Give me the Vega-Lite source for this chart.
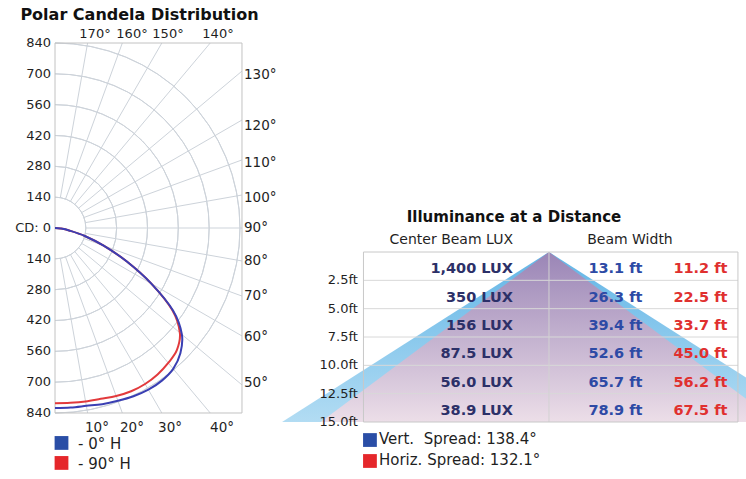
{
"$schema":"https://vega.github.io/schema/vega-lite/v6.json",
"width":746,"height":479,"autosize":{"type":"none"},"padding":0,"background":"white",
"config":{"view":{"stroke":null},"text":{"font":"DejaVu Sans","fontSize":13,"color":"#1f1f1f"},"axis":{"disable":true}},
"data":{"values":[{}]},
"datasets":{
"rings":[{"r":140},{"r":280},{"r":420},{"r":560},{"r":700},{"r":840}],
"spokes":[
{"x":24.31,"y":-137.87,"x2":148.1,"y2":-840},
{"x":47.88,"y":-131.56,"x2":305.7,"y2":-840},
{"x":70,"y":-121.24,"x2":485,"y2":-840},
{"x":89.99,"y":-107.25,"x2":704.8,"y2":-840},
{"x":107.25,"y":-89.99,"x2":849,"y2":-712.4},
{"x":121.24,"y":-70,"x2":849,"y2":-490.2},
{"x":131.56,"y":-47.88,"x2":849,"y2":-309},
{"x":137.87,"y":-24.31,"x2":849,"y2":-149.7},
{"x":140,"y":0,"x2":849,"y2":0},
{"x":137.87,"y":24.31,"x2":849,"y2":149.7},
{"x":131.56,"y":47.88,"x2":849,"y2":309},
{"x":121.24,"y":70,"x2":849,"y2":490.2},
{"x":107.25,"y":89.99,"x2":849,"y2":712.4},
{"x":89.99,"y":107.25,"x2":704.8,"y2":840},
{"x":70,"y":121.24,"x2":485,"y2":840},
{"x":47.88,"y":131.56,"x2":305.7,"y2":840},
{"x":24.31,"y":137.87,"x2":148.1,"y2":840}],
"curves":[
{"s":"0° H","a":0,"x":0,"y":-817},
{"s":"0° H","a":5,"x":71.3,"y":-814.9},
{"s":"0° H","a":10,"x":142.4,"y":-807.5},
{"s":"0° H","a":15,"x":214.3,"y":-799.8},
{"s":"0° H","a":20,"x":285.6,"y":-784.6},
{"s":"0° H","a":25,"x":356.3,"y":-764.0},
{"s":"0° H","a":30,"x":424.0,"y":-734.4},
{"s":"0° H","a":35,"x":485.2,"y":-693.0},
{"s":"0° H","a":40,"x":536.7,"y":-639.6},
{"s":"0° H","a":45,"x":569.2,"y":-569.2},
{"s":"0° H","a":50,"x":576.1,"y":-483.4},
{"s":"0° H","a":55,"x":536.5,"y":-375.7},
{"s":"0° H","a":60,"x":437.3,"y":-252.5},
{"s":"0° H","a":65,"x":326.3,"y":-152.1},
{"s":"0° H","a":70,"x":220.8,"y":-80.4},
{"s":"0° H","a":75,"x":135.2,"y":-36.2},
{"s":"0° H","a":80,"x":64.0,"y":-11.3},
{"s":"0° H","a":85,"x":24.9,"y":-2.2},
{"s":"0° H","a":90,"x":0,"y":0},
{"s":"90° H","a":0,"x":0,"y":-796},
{"s":"90° H","a":5,"x":69.5,"y":-794.0},
{"s":"90° H","a":10,"x":138.9,"y":-787.8},
{"s":"90° H","a":15,"x":207.8,"y":-775.6},
{"s":"90° H","a":20,"x":277.7,"y":-763.0},
{"s":"90° H","a":25,"x":345.7,"y":-741.4},
{"s":"90° H","a":30,"x":409.0,"y":-708.4},
{"s":"90° H","a":35,"x":465.7,"y":-665.2},
{"s":"90° H","a":40,"x":514.2,"y":-612.8},
{"s":"90° H","a":45,"x":553.7,"y":-553.7},
{"s":"90° H","a":50,"x":566.9,"y":-475.7},
{"s":"90° H","a":55,"x":532.4,"y":-372.8},
{"s":"90° H","a":60,"x":437.3,"y":-252.5},
{"s":"90° H","a":65,"x":326.3,"y":-152.1},
{"s":"90° H","a":70,"x":220.8,"y":-80.4},
{"s":"90° H","a":75,"x":135.2,"y":-36.2},
{"s":"90° H","a":80,"x":64.0,"y":-11.3},
{"s":"90° H","a":85,"x":24.9,"y":-2.2},
{"s":"90° H","a":90,"x":0,"y":0}],
"cd_labels":[{"y":840,"t":"840"},{"y":700,"t":"700"},{"y":560,"t":"560"},{"y":420,"t":"420"},{"y":280,"t":"280"},{"y":140,"t":"140"},{"y":0,"t":"CD: 0"},{"y":-140,"t":"140"},{"y":-280,"t":"280"},{"y":-420,"t":"420"},{"y":-560,"t":"560"},{"y":-700,"t":"700"},{"y":-840,"t":"840"}],
"deg_top":[{"x":181.6,"t":"170°"},{"x":349.6,"t":"160°"},{"x":513.1,"t":"150°"},{"x":740.1,"t":"140°"}],
"deg_bottom":[{"x":190.7,"t":"10°"},{"x":349.6,"t":"20°"},{"x":522.2,"t":"30°"},{"x":758.3,"t":"40°"}],
"deg_right":[{"y":694.7,"t":"130°"},{"y":463.1,"t":"120°"},{"y":297.4,"t":"110°"},{"y":137.9,"t":"100°"},{"y":0,"t":"90°"},{"y":-149.8,"t":"80°"},{"y":-308.8,"t":"70°"},{"y":-497,"t":"60°"},{"y":-705.9,"t":"50°"}],
"beam_vert":[{"dist":0,"x":0,"x2":0},{"dist":15,"x":-39.45,"x2":39.45}],
"beam_horiz":[{"dist":0,"x":0,"x2":0},{"dist":15,"x":-33.75,"x2":33.75}],
"rows":[
{"dist":2.5,"label":"2.5ft","lux":"1,400 LUX","vert":"13.1 ft","horiz":"11.2 ft"},
{"dist":5.0,"label":"5.0ft","lux":"350 LUX","vert":"26.3 ft","horiz":"22.5 ft"},
{"dist":7.5,"label":"7.5ft","lux":"156 LUX","vert":"39.4 ft","horiz":"33.7 ft"},
{"dist":10.0,"label":"10.0ft","lux":"87.5 LUX","vert":"52.6 ft","horiz":"45.0 ft"},
{"dist":12.5,"label":"12.5ft","lux":"56.0 LUX","vert":"65.7 ft","horiz":"56.2 ft"},
{"dist":15.0,"label":"15.0ft","lux":"38.9 LUX","vert":"78.9 ft","horiz":"67.5 ft"}]
},
"resolve":{"scale":{"x":"independent","y":"independent"}},
"layer":[
{
"layer":[
{"data":{"name":"rings"},"mark":{"type":"arc","theta":0,"theta2":3.14159,"filled":false,"stroke":"#cdd3da","strokeWidth":1},
"encoding":{"x":{"datum":0,"type":"quantitative","scale":{"domain":[-249.73,3137.5],"nice":false,"zero":false}},"y":{"datum":0,"type":"quantitative","scale":{"domain":[-1139.68,1035.25],"nice":false,"zero":false}},"radius":{"field":"r","type":"quantitative","scale":{"type":"linear","domain":[0,840],"range":[0,185],"zero":true,"nice":false}},"radius2":{"field":"r"}}},
{"data":{"name":"spokes"},"mark":{"type":"rule","color":"#cdd3da","strokeWidth":1},
"encoding":{"x":{"field":"x","type":"quantitative","scale":{"domain":[-249.73,3137.5],"nice":false,"zero":false}},"y":{"field":"y","type":"quantitative","scale":{"domain":[-1139.68,1035.25],"nice":false,"zero":false}},"x2":{"field":"x2"},"y2":{"field":"y2"}}},
{"mark":{"type":"rect","filled":false,"stroke":"#c2c2c2","strokeWidth":1},"encoding":{"x":{"datum":0,"type":"quantitative"},"x2":{"datum":849},"y":{"datum":-840,"type":"quantitative"},"y2":{"datum":840}}},
{"data":{"name":"curves"},"transform":[{"filter":"datum.s === '90° H'"}],"mark":{"type":"line","color":"#e23a3c","strokeWidth":2,"interpolate":"cardinal"},"encoding":{"x":{"field":"x","type":"quantitative"},"y":{"field":"y","type":"quantitative"},"order":{"field":"a","type":"quantitative"}}},
{"data":{"name":"curves"},"transform":[{"filter":"datum.s === '0° H'"}],"mark":{"type":"line","color":"#3a3fb3","strokeWidth":2,"interpolate":"cardinal"},"encoding":{"x":{"field":"x","type":"quantitative"},"y":{"field":"y","type":"quantitative"},"order":{"field":"a","type":"quantitative"}}},
{"data":{"name":"cd_labels"},"mark":{"type":"text","align":"right","baseline":"middle","dx":-4},"encoding":{"x":{"datum":0,"type":"quantitative"},"y":{"field":"y","type":"quantitative"},"text":{"field":"t"}}},
{"data":{"name":"deg_top"},"mark":{"type":"text","align":"center","baseline":"alphabetic","dy":-5,"fontSize":13},"encoding":{"x":{"field":"x","type":"quantitative"},"y":{"datum":840,"type":"quantitative"},"text":{"field":"t"}}},
{"data":{"name":"deg_bottom"},"mark":{"type":"text","align":"center","baseline":"alphabetic","dy":19,"fontSize":13.5},"encoding":{"x":{"field":"x","type":"quantitative"},"y":{"datum":-840,"type":"quantitative"},"text":{"field":"t"}}},
{"data":{"name":"deg_right"},"mark":{"type":"text","align":"left","baseline":"middle","dx":2,"fontSize":13.5},"encoding":{"x":{"datum":849,"type":"quantitative"},"y":{"field":"y","type":"quantitative"},"text":{"field":"t"}}},
{"mark":{"type":"text","text":"Polar Candela Distribution","fontWeight":"bold","fontSize":16,"align":"center","baseline":"alphabetic","color":"#111"},"encoding":{"x":{"datum":383.7,"type":"quantitative"},"y":{"datum":944.4,"type":"quantitative"}}},
{"mark":{"type":"point","shape":"square","filled":true,"size":190,"opacity":1,"color":"#2a4ea6"},"encoding":{"x":{"datum":29.5,"type":"quantitative"},"y":{"datum":-976,"type":"quantitative"}}},
{"mark":{"type":"point","shape":"square","filled":true,"size":190,"opacity":1,"color":"#e5272b"},"encoding":{"x":{"datum":29.5,"type":"quantitative"},"y":{"datum":-1066.8,"type":"quantitative"}}},
{"mark":{"type":"text","text":"- 0° H","fontSize":15,"align":"left","baseline":"middle"},"encoding":{"x":{"datum":104.4,"type":"quantitative"},"y":{"datum":-982,"type":"quantitative"}}},
{"mark":{"type":"text","text":"- 90° H","fontSize":15,"align":"left","baseline":"middle"},"encoding":{"x":{"datum":104.4,"type":"quantitative"},"y":{"datum":-1072,"type":"quantitative"}}}
]
},
{
"layer":[
{"data":{"name":"beam_vert"},"mark":{"type":"area","orient":"horizontal","color":{"gradient":"linear","x1":0,"y1":0,"x2":0,"y2":1,"stops":[{"offset":0,"color":"#62b5e6"},{"offset":1,"color":"#b2dcf3"}]}},
"encoding":{"x":{"field":"x","type":"quantitative","scale":{"domain":[-81.14,29.12],"nice":false,"zero":false}},"x2":{"field":"x2"},"y":{"field":"dist","type":"quantitative","scale":{"domain":[-22.235,20.029],"reverse":true,"nice":false,"zero":false}}}},
{"data":{"name":"beam_horiz"},"mark":{"type":"area","orient":"horizontal","color":{"gradient":"linear","x1":0,"y1":0,"x2":0,"y2":1,"stops":[{"offset":0,"color":"#9a85b6"},{"offset":1,"color":"#ecdee8"}]}},
"encoding":{"x":{"field":"x","type":"quantitative"},"x2":{"field":"x2"},"y":{"field":"dist","type":"quantitative"}}},
{"data":{"name":"rows"},"transform":[{"filter":"datum.dist < 15"}],"mark":{"type":"rule","color":"#d8d8d8","strokeWidth":1},"encoding":{"x":{"datum":-27.42,"type":"quantitative"},"x2":{"datum":27.93},"y":{"field":"dist","type":"quantitative"}}},
{"mark":{"type":"rule","color":"#d2d2d2","strokeWidth":1},"encoding":{"x":{"datum":0,"type":"quantitative"},"y":{"datum":0,"type":"quantitative"},"y2":{"datum":15}}},
{"mark":{"type":"rect","filled":false,"stroke":"#c8c8c8","strokeWidth":1},"encoding":{"x":{"datum":-27.42,"type":"quantitative"},"x2":{"datum":27.93},"y":{"datum":0,"type":"quantitative"},"y2":{"datum":15}}},
{"data":{"name":"rows"},"mark":{"type":"text","fontWeight":"bold","fontSize":14.5,"color":"#2c3068","align":"right","baseline":"middle","dy":-11},"encoding":{"x":{"datum":-5.32,"type":"quantitative"},"y":{"field":"dist","type":"quantitative"},"text":{"field":"lux"}}},
{"data":{"name":"rows"},"mark":{"type":"text","fontWeight":"bold","fontSize":14.5,"color":"#2d4aa5","align":"right","baseline":"middle","dy":-11},"encoding":{"x":{"datum":13.82,"type":"quantitative"},"y":{"field":"dist","type":"quantitative"},"text":{"field":"vert"}}},
{"data":{"name":"rows"},"mark":{"type":"text","fontWeight":"bold","fontSize":14.5,"color":"#e0302f","align":"right","baseline":"middle","dy":-11},"encoding":{"x":{"datum":26.38,"type":"quantitative"},"y":{"field":"dist","type":"quantitative"},"text":{"field":"horiz"}}},
{"data":{"name":"rows"},"mark":{"type":"text","fontSize":13,"align":"right","baseline":"middle","dx":-5.5},"encoding":{"x":{"datum":-27.42,"type":"quantitative"},"y":{"field":"dist","type":"quantitative"},"text":{"field":"label"}}},
{"mark":{"type":"text","text":"Illuminance at a Distance","fontWeight":"bold","fontSize":15,"align":"center","baseline":"middle","color":"#111"},"encoding":{"x":{"datum":-5.17,"type":"quantitative"},"y":{"datum":-3.13,"type":"quantitative"}}},
{"mark":{"type":"text","text":"Center Beam LUX","fontSize":14,"align":"right","baseline":"middle"},"encoding":{"x":{"datum":-5.32,"type":"quantitative"},"y":{"datum":-1.06,"type":"quantitative"}}},
{"mark":{"type":"text","text":"Beam Width","fontSize":14,"align":"center","baseline":"middle"},"encoding":{"x":{"datum":11.97,"type":"quantitative"},"y":{"datum":-1.06,"type":"quantitative"}}},
{"mark":{"type":"point","shape":"square","filled":true,"size":190,"opacity":1,"color":"#2a4ea6"},"encoding":{"x":{"datum":-26.46,"type":"quantitative"},"y":{"datum":16.59,"type":"quantitative"}}},
{"mark":{"type":"point","shape":"square","filled":true,"size":190,"opacity":1,"color":"#e5272b"},"encoding":{"x":{"datum":-26.46,"type":"quantitative"},"y":{"datum":18.44,"type":"quantitative"}}},
{"mark":{"type":"text","text":"Vert.\u00a0 Spread: 138.4°","fontSize":15,"align":"left","baseline":"middle"},"encoding":{"x":{"datum":-25.13,"type":"quantitative"},"y":{"datum":16.5,"type":"quantitative"}}},
{"mark":{"type":"text","text":"Horiz. Spread: 132.1°","fontSize":15,"align":"left","baseline":"middle"},"encoding":{"x":{"datum":-25.13,"type":"quantitative"},"y":{"datum":18.35,"type":"quantitative"}}}
]
}
]
}
